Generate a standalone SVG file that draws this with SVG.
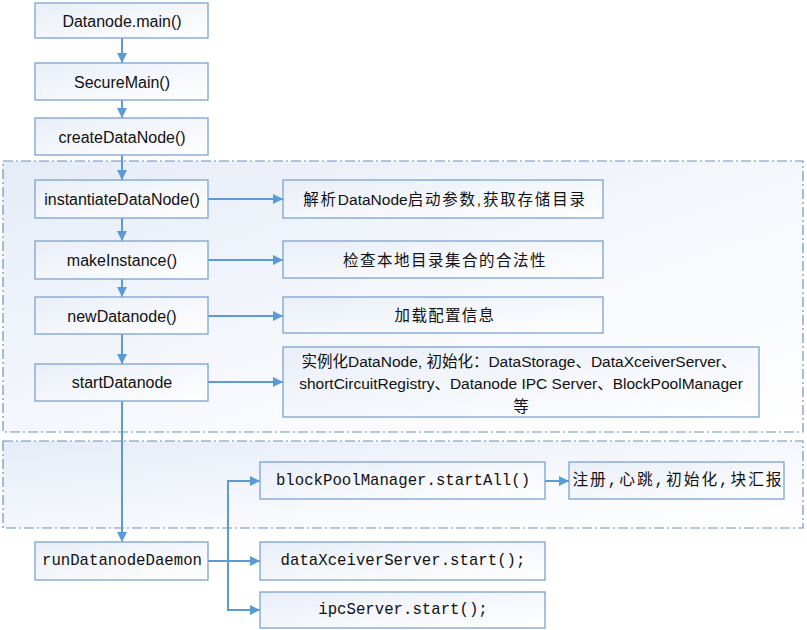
<svg xmlns="http://www.w3.org/2000/svg" width="807" height="630" viewBox="0 0 807 630">
<defs>
<linearGradient id="bg" x1="0" y1="0" x2="1" y2="1">
<stop offset="0" stop-color="#e9eef8"/>
<stop offset="1" stop-color="#ffffff"/>
</linearGradient>
<linearGradient id="region" x1="0" y1="0" x2="1" y2="1">
<stop offset="0" stop-color="#e6ecf7"/>
<stop offset="0.6" stop-color="#f7f9fd"/>
<stop offset="1" stop-color="#ffffff"/>
</linearGradient>
<marker id="ah" markerWidth="10" markerHeight="10" refX="10" refY="5" orient="auto" markerUnits="userSpaceOnUse">
<path d="M0,0 L10,5 L0,10 z" fill="#5b9bd5"/>
</marker>
</defs>
<style>
.box{fill:url(#bg);stroke:#7aa3d3;stroke-width:1.3}
.region{fill:url(#region);stroke:#6e92bf;stroke-width:1.2;stroke-dasharray:10 3 2 3}
.t{font-family:"Liberation Sans",Arial,sans-serif;font-size:16px;fill:#111;text-anchor:middle;dominant-baseline:central}
.cn{font-family:"Liberation Sans","Noto Sans CJK SC",sans-serif;font-size:15.5px;fill:#111;text-anchor:middle;dominant-baseline:central}
.m{font-family:"Liberation Mono","Noto Sans CJK SC",monospace;font-size:15.7px;fill:#111;text-anchor:middle;dominant-baseline:central}
.c{fill:none;stroke:#5b9bd5;stroke-width:2}
</style>
<rect class="region" x="3" y="161" width="800" height="271"/>
<rect class="region" x="3" y="441" width="800" height="87"/>
<g id="connectors">
<line class="c" x1="122" y1="38" x2="122" y2="63" marker-end="url(#ah)"/>
<line class="c" x1="122" y1="100" x2="122" y2="118" marker-end="url(#ah)"/>
<line class="c" x1="122" y1="155" x2="122" y2="180" marker-end="url(#ah)"/>
<line class="c" x1="122" y1="218" x2="122" y2="241" marker-end="url(#ah)"/>
<line class="c" x1="122" y1="279" x2="122" y2="297" marker-end="url(#ah)"/>
<line class="c" x1="122" y1="334" x2="122" y2="364" marker-end="url(#ah)"/>
<line class="c" x1="122" y1="401" x2="122" y2="542" marker-end="url(#ah)"/>
<line class="c" x1="208" y1="199" x2="283" y2="199" marker-end="url(#ah)"/>
<line class="c" x1="208" y1="260" x2="283" y2="260" marker-end="url(#ah)"/>
<line class="c" x1="208" y1="316" x2="283" y2="316" marker-end="url(#ah)"/>
<line class="c" x1="208" y1="382" x2="283" y2="382" marker-end="url(#ah)"/>
<line class="c" x1="545" y1="481" x2="569" y2="481" marker-end="url(#ah)"/>
<line class="c" x1="208" y1="561" x2="228" y2="561"/>
<polyline class="c" points="228,561 228,481 260,481" marker-end="url(#ah)"/>
<line class="c" x1="228" y1="561" x2="260" y2="561" marker-end="url(#ah)"/>
<polyline class="c" points="228,561 228,610 260,610" marker-end="url(#ah)"/>
</g>
<g id="n1"><rect class="box" x="35" y="3" width="173" height="35"/><text class="t" x="122" y="21">Datanode.main()</text></g>
<g id="n2"><rect class="box" x="35" y="63" width="173" height="37"/><text class="t" x="122" y="82">SecureMain()</text></g>
<g id="n3"><rect class="box" x="35" y="118" width="173" height="37"/><text class="t" x="122" y="137">createDataNode()</text></g>
<g id="n4"><rect class="box" x="35" y="180" width="173" height="38"/><text class="t" x="122" y="199">instantiateDataNode()</text></g>
<g id="n5"><rect class="box" x="35" y="241" width="173" height="38"/><text class="t" x="122" y="260">makeInstance()</text></g>
<g id="n6"><rect class="box" x="35" y="297" width="173" height="37"/><text class="t" x="122" y="316">newDatanode()</text></g>
<g id="n7"><rect class="box" x="35" y="364" width="173" height="37"/><text class="t" x="122" y="382">startDatanode</text></g>
<g id="n8"><rect class="box" x="35" y="542" width="173" height="38"/><text class="m" x="122" y="561">runDatanodeDaemon</text></g>
<g id="r1"><rect class="box" x="283" y="180" width="320" height="38"/><text class="cn" x="445" y="199" letter-spacing="1.8">解析<tspan letter-spacing="0">DataNode</tspan>启动参数,获取存储目录</text></g>
<g id="r2"><rect class="box" x="283" y="241" width="320" height="37"/><text class="cn" x="445" y="260" font-size="16" letter-spacing="1.5">检查本地目录集合的合法性</text></g>
<g id="r3"><rect class="box" x="283" y="297" width="320" height="36"/><text class="cn" x="445" y="315" font-size="16" letter-spacing="1.3">加载配置信息</text></g>
<g id="r4"><rect class="box" x="283" y="347" width="476" height="70"/>
<text class="cn" x="519" y="361" font-size="15">实例化DataNode, 初始化：DataStorage、DataXceiverServer、</text>
<text class="cn" x="521" y="383" font-size="14.7">shortCircuitRegistry、Datanode IPC Server、BlockPoolManager</text>
<text class="cn" x="521" y="406" font-size="15">等</text></g>
<g id="b1"><rect class="box" x="260" y="462" width="285" height="37"/><text class="m" x="403" y="481">blockPoolManager.startAll()</text></g>
<g id="b2"><rect class="box" x="569" y="462" width="215" height="37"/><text class="m" x="678" y="481" font-size="16" letter-spacing="2">注册,心跳,初始化,块汇报</text></g>
<g id="b3"><rect class="box" x="260" y="542" width="285" height="38"/><text class="m" x="403" y="561">dataXceiverServer.start();</text></g>
<g id="b4"><rect class="box" x="260" y="592" width="285" height="36"/><text class="m" x="403" y="610">ipcServer.start();</text></g>
</svg>
